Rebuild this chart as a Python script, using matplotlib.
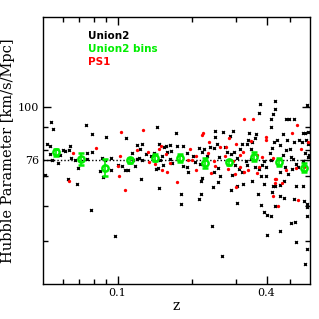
import matplotlib
matplotlib.use("Agg")
import matplotlib.pyplot as plt
from matplotlib.ticker import FixedLocator, NullFormatter, FixedFormatter

# Union2 supernovae (z, H)
z_union2 = [
    0.0538, 0.0546, 0.0747, 0.0787, 0.0899, 0.1083, 0.0521, 0.0531, 0.0531, 0.0543,
    0.0575, 0.0586, 0.0601, 0.0614, 0.0634, 0.0643, 0.0649, 0.0676, 0.0693, 0.0750,
    0.0752, 0.0785, 0.0846, 0.0867, 0.0886, 0.0942, 0.0942, 0.1006, 0.1041, 0.1070,
    0.1107, 0.1139, 0.0508, 0.0628, 0.0685, 0.0782, 0.0981, 0.0877,
    0.1442, 0.1725, 0.2467, 0.2474, 0.1193, 0.1260, 0.1234, 0.1160, 0.1196, 0.1220,
    0.1256, 0.1307, 0.1364, 0.1398, 0.1469, 0.1540, 0.1563, 0.1622, 0.1731, 0.1836,
    0.1911, 0.2016, 0.2136, 0.2185, 0.2226, 0.2290, 0.2366, 0.2444, 0.2521, 0.2566,
    0.1647, 0.1586, 0.1515, 0.1478, 0.1622, 0.1455, 0.1432, 0.1529, 0.1662, 0.1836,
    0.1911, 0.1935, 0.2053, 0.2150, 0.2185, 0.2444, 0.2549, 0.2597, 0.1242, 0.1171,
    0.1473, 0.1797, 0.1808, 0.2178, 0.2178, 0.2142, 0.2427, 0.2537, 0.2405, 0.2650,
    0.3758, 0.4312, 0.4312, 0.4245, 0.3735, 0.4155, 0.4155, 0.4923, 0.5143, 0.4801,
    0.5822, 0.5624, 0.5750, 0.5900, 0.4657, 0.4845, 0.5189, 0.5403, 0.5556, 0.5768,
    0.5893, 0.3644, 0.3587, 0.3498, 0.3402, 0.3358, 0.3348, 0.3457, 0.3188, 0.3140,
    0.2915, 0.2842, 0.2680, 0.2706, 0.2774, 0.2877, 0.2969, 0.3036, 0.2978, 0.3085,
    0.2888, 0.3188, 0.3326, 0.3457, 0.3308, 0.3610, 0.3714, 0.3825, 0.3913, 0.3987,
    0.3987, 0.4116, 0.4209, 0.4285, 0.4417, 0.4517, 0.4657, 0.4774, 0.4955, 0.5030,
    0.5124, 0.5255, 0.5368, 0.5050, 0.4730, 0.4517, 0.4880, 0.5608, 0.5877, 0.5950,
    0.5750, 0.4178, 0.3783,
    0.3028, 0.2877, 0.3200, 0.3498, 0.3913, 0.4233, 0.4312, 0.4542, 0.4700, 0.5240,
    0.5624, 0.4217, 0.4517, 0.4700, 0.3700, 0.3045, 0.3818, 0.4312, 0.3891, 0.4025,
    0.4178, 0.5157, 0.5645, 0.5822, 0.5806, 0.5822, 0.5220, 0.5002, 0.4542, 0.4025,
    0.5269, 0.5839, 0.5730,
]
H_union2 = [
    92.6, 89.0, 91.1, 86.8, 85.4, 85.0, 82.6, 81.8, 78.3, 75.9,
    74.6, 77.9, 80.1, 79.6, 80.1, 81.6, 76.7, 76.0, 73.0, 78.7,
    76.4, 79.3, 71.9, 76.7, 76.0, 76.8, 72.2, 74.0, 73.5, 72.1,
    72.2, 78.8, 70.4, 68.9, 67.2, 58.7, 51.3, 69.6,
    90.0, 87.5, 88.4, 85.6, 82.1, 82.4, 80.5, 75.9, 76.4, 76.7,
    75.9, 78.3, 77.6, 78.7, 82.5, 81.2, 81.6, 81.9, 81.6, 81.5,
    78.6, 77.6, 81.0, 79.3, 80.5, 77.6, 81.3, 80.7, 82.7, 77.3,
    79.5, 79.3, 77.5, 76.1, 76.5, 72.9, 72.5, 74.1, 74.6, 73.7,
    73.2, 71.5, 75.3, 74.4, 69.1, 71.4, 72.9, 69.9, 69.0, 73.5,
    65.7, 63.6, 60.5, 68.2, 63.8, 62.2, 65.9, 67.8, 54.0, 46.2,
    101.4, 103.2, 98.8, 96.6, 96.8, 93.9, 89.9, 93.7, 93.7, 93.7,
    100.7, 87.5, 87.2, 87.9, 86.8, 84.2, 83.5, 84.2, 83.5, 84.2,
    82.7, 86.9, 84.9, 83.5, 87.2, 84.2, 82.7, 80.2, 82.5, 80.5,
    88.4, 86.2, 87.9, 81.3, 79.3, 78.3, 79.3, 76.7, 74.1, 72.5,
    70.3, 71.4, 74.1, 76.5, 75.7, 73.2, 72.5, 74.1, 75.7, 73.2,
    69.8, 78.9, 80.7, 83.5, 84.2, 82.1, 78.0, 80.0, 80.2, 77.3,
    76.3, 74.5, 73.2, 72.5, 73.2, 71.2, 70.7, 75.7, 77.3, 78.0,
    78.7, 76.0, 69.9,
    66.4, 64.9, 67.2, 68.1, 67.1, 66.5, 66.5, 66.8, 68.1, 66.5,
    66.5, 64.5, 62.9, 62.3, 63.6, 60.7, 60.2, 59.8, 58.0, 57.1,
    56.9, 62.0, 61.3, 60.6, 59.6, 56.8, 55.2, 54.8, 52.5, 51.6,
    49.7, 47.9, 44.4,
]

# PS1 supernovae (z, H)
z_ps1 = [
    0.0662, 0.0819, 0.1031, 0.1022, 0.1003, 0.1015, 0.0636, 0.1070,
    0.1269, 0.2211, 0.2185, 0.1196, 0.1324, 0.1344, 0.1415, 0.1477, 0.1497, 0.1571,
    0.1632, 0.1581, 0.1515, 0.1965, 0.2004, 0.2083, 0.2344, 0.2388, 0.2483, 0.2329,
    0.2460, 0.2083, 0.1923, 0.2606, 0.1731,
    0.3230, 0.3531, 0.5304, 0.5077, 0.5877, 0.3965, 0.2834, 0.2746, 0.2998, 0.3114,
    0.3209, 0.3468, 0.3987, 0.3665, 0.3850, 0.2730, 0.2924, 0.2789, 0.3140, 0.3230,
    0.2989, 0.3358, 0.3655, 0.3724, 0.4245, 0.4376, 0.4312, 0.4801, 0.5269, 0.5656,
    0.5540, 0.3017, 0.4312, 0.4627, 0.4245, 0.4446, 0.5338,
]
H_ps1 = [
    78.7, 80.8, 87.9, 77.6, 73.5, 69.9, 68.2, 65.1,
    88.7, 87.2, 86.4, 80.0, 79.3, 75.0, 74.5, 80.5, 81.7, 78.4,
    74.8, 71.4, 72.3, 80.2, 75.9, 77.7, 83.3, 71.0, 73.5, 78.9,
    75.7, 72.3, 76.0, 81.3, 67.7,
    93.7, 93.9, 91.2, 87.2, 83.5, 85.7, 85.3, 81.3, 82.7, 78.0,
    79.3, 83.8, 84.2, 78.0, 77.3, 77.6, 75.5, 72.5, 73.2, 71.4,
    70.7, 72.2, 71.0, 73.2, 76.8, 69.0, 68.7, 72.2, 73.0, 73.1,
    80.2, 66.1, 67.6, 67.6, 62.9, 59.8, 61.6,
]

# Union2 binned values
z_bins = [0.0563, 0.0709, 0.0891, 0.1124, 0.1415, 0.1785, 0.2247, 0.2825, 0.3563, 0.4485, 0.5645]
H_bins = [79.0, 76.5, 73.0, 75.9, 76.9, 76.8, 74.8, 75.1, 77.3, 75.1, 73.0]
H_bins_err = [1.6, 2.3, 3.2, 1.0, 1.5, 1.5, 1.8, 1.0, 1.8, 1.5, 1.8]

H_ref = 76

fig = plt.figure(figsize=(3.19, 3.19), dpi=100)
ax = fig.add_axes([0.135, 0.110, 0.837, 0.836])

ax.axhline(H_ref, color="black", ls=(0, (1, 1.5)), lw=1.0, zorder=1)
ax.plot(z_union2, H_union2, "x", color="black", ms=2.0, mew=1.0, zorder=2)
ax.plot(z_ps1, H_ps1, "o", color="red", ms=2.4, mew=0, zorder=3)
ax.errorbar(z_bins, H_bins, yerr=H_bins_err, fmt="o", color="#00ee00", mfc="none",
            mec="#00ee00", ms=4.5, mew=1.8, elinewidth=1.2, capsize=2.5, capthick=1.2, zorder=4)

ax.set_xscale("log")
ax.set_yscale("log")
ax.set_xlim(0.05, 0.6)
ax.set_ylim(40, 159)

ax.xaxis.set_major_locator(FixedLocator([0.1, 0.4]))
ax.xaxis.set_major_formatter(FixedFormatter(["0.1", "0.4"]))
ax.xaxis.set_minor_locator(FixedLocator([0.06, 0.07, 0.08, 0.09, 0.2, 0.3, 0.5]))
ax.xaxis.set_minor_formatter(NullFormatter())
ax.yaxis.set_major_locator(FixedLocator([76, 100]))
ax.yaxis.set_major_formatter(FixedFormatter(["76", "100"]))
ax.yaxis.set_minor_locator(FixedLocator([50, 60, 70, 80, 90]))
ax.yaxis.set_minor_formatter(NullFormatter())

ax.tick_params(which="both", direction="in", top=True, right=True, width=1.0)
ax.tick_params(which="major", length=6, labelsize=8, pad=3)
ax.tick_params(which="minor", length=3.5)
for lab in ax.get_xticklabels() + ax.get_yticklabels():
    lab.set_family("DejaVu Serif")
for sp in ax.spines.values():
    sp.set_linewidth(1.0)

ax.set_xlabel("z", family="DejaVu Serif", fontsize=10, labelpad=1)
ax.set_ylabel("Hubble Parameter [km/s/Mpc]", family="DejaVu Serif", fontsize=10.5, labelpad=1.5)

ax.text(0.17, 0.92, "Union2", transform=ax.transAxes, color="black", fontsize=7.5, fontweight="bold")
ax.text(0.17, 0.87, "Union2 bins", transform=ax.transAxes, color="#00ee00", fontsize=7.5, fontweight="bold")
ax.text(0.17, 0.82, "PS1", transform=ax.transAxes, color="red", fontsize=7.5, fontweight="bold")

fig.savefig("out.png", dpi=100)
